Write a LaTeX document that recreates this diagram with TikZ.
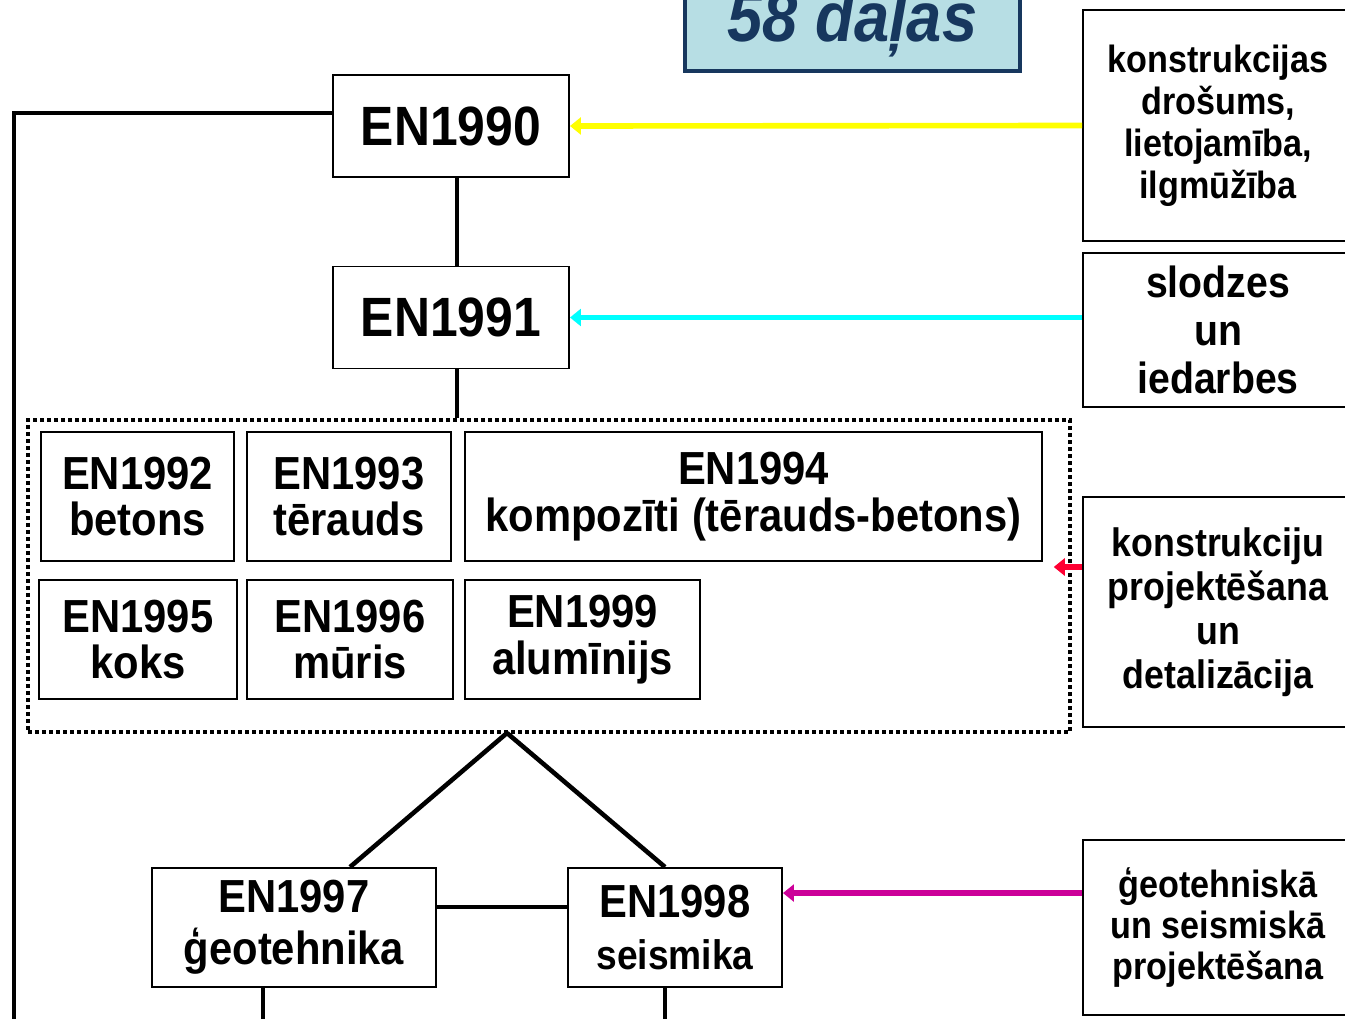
\documentclass[tikz,border=0pt]{standalone}
\usepackage{fontspec}
\setmainfont{Liberation Sans}[FakeStretch=0.9]
\usetikzlibrary{arrows.meta, positioning, calc}

\definecolor{titlefill}{RGB}{183,222,228}
\definecolor{titleblue}{RGB}{23,55,94}
\definecolor{linkyellow}{RGB}{255,255,0}
\definecolor{linkcyan}{RGB}{0,255,255}
\definecolor{linkred}{RGB}{255,0,51}
\definecolor{linkpink}{RGB}{204,0,153}

\begin{document}
\begin{tikzpicture}[
    box/.style={draw, line width=1.1pt, inner sep=0pt, align=center},
    big/.style={box, font=\bfseries\fontsize{31.5}{33}\selectfont, minimum width=4.72cm, minimum height=2.04cm},
    part/.style={box, font=\bfseries\fontsize{26.4}{26.7}\selectfont},
    note/.style={box, minimum width=5.4cm},
    link/.style={line width=2.6pt},
    feed/.style={line width=3.2pt, -{Triangle[length=0.22cm, width=0.34cm]}},
  ]
  \useasboundingbox (0,0) rectangle (26.9,-20.38);

  % title
  \node[draw=titleblue, fill=titlefill, line width=2.2pt, minimum width=6.7cm, minimum height=1.9cm,
        text=titleblue, font=\bfseries\itshape\fontsize{40}{41}\selectfont] (title) at (17.05,-0.47) {58 daļas};

  % right column
  \node[note, minimum height=4.62cm, font=\bfseries\fontsize{21.6}{23.9}\selectfont] (safety) at (24.36,-2.51)
    {konstrukcijas\\drošums,\\lietojamība,\\ilgmūžība};
  \node[note, minimum height=3.08cm, font=\bfseries\fontsize{24.8}{27.3}\selectfont] (loads) at (24.36,-6.6)
    {slodzes\\un\\iedarbes};
  \node[note, minimum height=4.6cm, font=\bfseries\fontsize{22.6}{25}\selectfont] (design) at (24.36,-12.24)
    {konstrukciju\\projektēšana\\un\\detalizācija};
  \node[note, minimum height=3.5cm, font=\bfseries\fontsize{21.6}{23.6}\selectfont] (geoseis) at (24.36,-18.55)
    {ģeotehniskā\\un seismiskā\\projektēšana};

  % main column
  \node[big] (en1990) at (9.02,-2.52) {EN1990};
  \node[big] (en1991) at (9.02,-6.35) {EN1991};

  \node[draw, line width=2pt, dash pattern=on 0.08cm off 0.06cm, inner sep=0pt,
        minimum width=20.84cm, minimum height=6.24cm] (group) at (10.98,-11.52) {};

  \node[part, minimum width=3.86cm, minimum height=2.58cm] (en1992) at (2.75,-9.93) {EN1992\\betons};
  \node[part, minimum width=4.08cm, minimum height=2.58cm] (en1993) at (6.98,-9.93) {EN1993\\tērauds};
  \node[part, minimum width=11.54cm, minimum height=2.58cm] (en1994) at (15.07,-9.93) {EN1994\\kompozīti (tērauds-betons)};
  \node[part, minimum width=3.96cm, minimum height=2.38cm] (en1995) at (2.76,-12.79) {EN1995\\koks};
  \node[part, minimum width=4.12cm, minimum height=2.38cm] (en1996) at (7.0,-12.79) {EN1996\\mūris};
  \node[part, minimum width=4.7cm, minimum height=2.38cm] (en1999) at (11.65,-12.79) {EN1999\\alumīnijs};

  \node[part, minimum width=5.68cm, minimum height=2.38cm] (en1997) at (5.88,-18.55) {EN1997\\[0.1cm]ģeotehnika};
  \node[part, minimum width=4.28cm, minimum height=2.38cm] (en1998) at (13.5,-18.55)
    {EN1998\\[0.1cm]{\fontsize{23.5}{26}\selectfont seismika}};

  % connectors
  \coordinate (fork) at (10.14,-14.66);
  \coordinate (busend) at (0.28,-20.6);
  \draw[link] ([yshift=0.26cm]en1990.west) -| (busend);
  \draw[link] ([xshift=0.12cm]en1990.south) -- ([xshift=0.12cm]en1991.north);
  \draw[link] ([xshift=0.12cm]en1991.south) -- ([xshift=0.12cm]en1991.south |- group.north);
  \draw[link] (fork) -- ([xshift=1.12cm]en1997.north);
  \draw[link] (fork) -- ([xshift=-0.2cm]en1998.north);
  \draw[link] ([yshift=0.41cm]en1997.east) -- ([yshift=0.41cm]en1998.west);
  \draw[link] ([xshift=-0.62cm]en1997.south) -- ([xshift=-0.62cm]en1997.south |- busend);
  \draw[link] ([xshift=-0.2cm]en1998.south) -- ([xshift=-0.2cm]en1998.south |- busend);

  % feeds from the right
  \coordinate (redtip) at ([xshift=-0.36cm, yshift=0.18cm]group.east);
  \coordinate (pinktip) at ([yshift=-0.52cm]en1998.north east);
  \draw[feed, linkyellow] (safety.west) -- (en1990.east);
  \draw[feed, linkcyan] (loads.west |- en1991.east) -- (en1991.east);
  \draw[feed, linkred] (design.west |- redtip) -- (redtip);
  \draw[feed, linkpink] (geoseis.west |- pinktip) -- (pinktip);
\end{tikzpicture}
\end{document}
